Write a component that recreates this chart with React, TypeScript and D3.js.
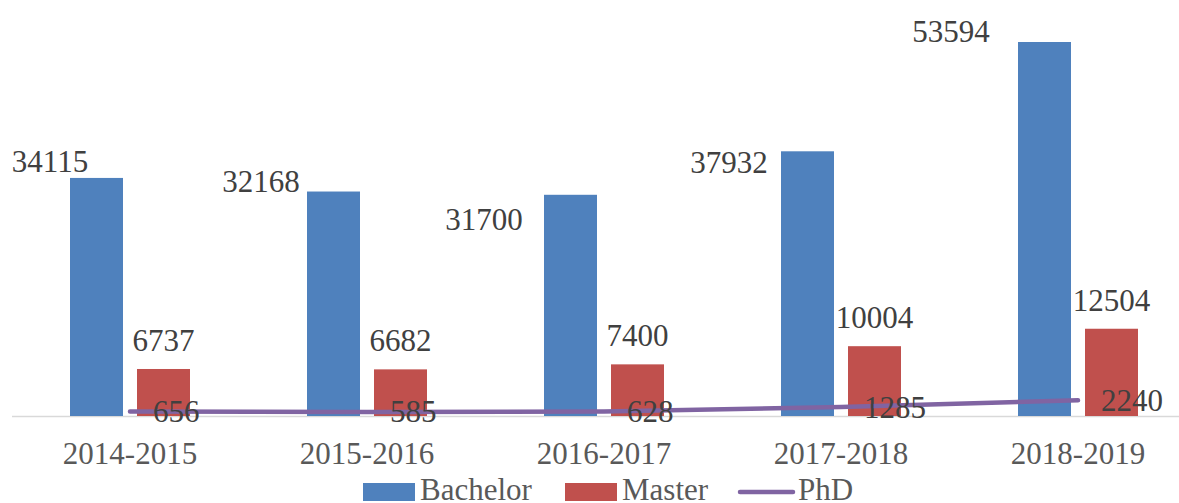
import React from "react";
import * as d3 from "d3";

const categories = ["2014-2015", "2015-2016", "2016-2017", "2017-2018", "2018-2019"];
const bachelor = [34115, 32168, 31700, 37932, 53594];
const master = [6737, 6682, 7400, 10004, 12504];
const phd = [656, 585, 628, 1285, 2240];
const seriesNames = ["Bachelor", "Master", "PhD"];

// manual label offsets for the Bachelor labels (layout, relative to bar centre / bar top)
const bachelorLabelDx = [-46.5, -72.5, -86.5, -78.5, -93.5];
const bachelorLabelDy = [-6, 0.5, 35, 22, -0.5];

const W = 1179;
const H = 503;
const COLORS = { Bachelor: "#4F81BD", Master: "#C0504D", PhD: "#8064A2" };
const FONT = "'Liberation Serif', 'Times New Roman', serif";

export default function App() {
  const x = d3.scaleBand<string>().domain(categories).range([11.5, 1196.5]).padding(0);
  const xs = d3
    .scaleBand<string>()
    .domain(["Bachelor", "Master"])
    .range([58.5, 178.5])
    .paddingInner(14 / 67)
    .paddingOuter(0);
  const y = d3.scaleLinear().domain([0, 60000]).range([416, -2.7]);

  const center = (c: string) => (x(c) as number) + x.bandwidth() / 2;
  const line = d3
    .line<number>()
    .x((_, i) => center(categories[i]))
    .y((d) => y(d));

  const bw = xs.bandwidth();

  return (
    <svg
      width={W}
      height={H}
      style={{ position: "absolute", left: 0, top: 0, background: "#fff" }}
      fontFamily={FONT}
    >
      <rect x={0} y={0} width={W} height={H} fill="#fff" />
      {/* baseline */}
      <line x1={12} x2={W} y1={416.5} y2={416.5} stroke="#d9d9d9" strokeWidth={1.5} />

      {/* Bachelor bars */}
      {categories.map((c, i) => (
        <rect
          key={"b" + c}
          x={(x(c) as number) + (xs("Bachelor") as number)}
          y={y(bachelor[i])}
          width={bw}
          height={y(0) - y(bachelor[i])}
          fill={COLORS.Bachelor}
        />
      ))}
      {/* Master bars */}
      {categories.map((c, i) => (
        <rect
          key={"m" + c}
          x={(x(c) as number) + (xs("Master") as number)}
          y={y(master[i])}
          width={bw}
          height={y(0) - y(master[i])}
          fill={COLORS.Master}
        />
      ))}

      {/* PhD line */}
      <path
        d={line(phd) || ""}
        fill="none"
        stroke={COLORS.PhD}
        strokeWidth={4.5}
        strokeLinecap="round"
        strokeLinejoin="round"
      />

      {/* Bachelor labels */}
      {categories.map((c, i) => (
        <text
          key={"bl" + c}
          x={(x(c) as number) + (xs("Bachelor") as number) + bw / 2 + bachelorLabelDx[i]}
          y={y(bachelor[i]) + bachelorLabelDy[i]}
          textAnchor="middle"
          fontSize={31}
          fill="#404040"
        >
          {bachelor[i]}
        </text>
      ))}
      {/* Master labels */}
      {categories.map((c, i) => (
        <text
          key={"ml" + c}
          x={(x(c) as number) + (xs("Master") as number) + bw / 2}
          y={y(master[i]) - 18}
          textAnchor="middle"
          fontSize={31}
          fill="#404040"
        >
          {master[i]}
        </text>
      ))}
      {/* PhD labels */}
      {categories.map((c, i) => (
        <text
          key={"pl" + c}
          x={center(c) + 23}
          y={y(phd[i]) + 10.5}
          textAnchor="start"
          fontSize={31}
          fill="#404040"
        >
          {phd[i]}
        </text>
      ))}

      {/* category axis labels */}
      {categories.map((c) => (
        <text key={"cl" + c} x={center(c)} y={464} textAnchor="middle" fontSize={31} fill="#595959">
          {c}
        </text>
      ))}

      {/* legend */}
      <g>
        <rect x={363} y={483} width={52} height={18} fill={COLORS.Bachelor} />
        <text x={420} y={500} fontSize={31} fill="#595959">
          {seriesNames[0]}
        </text>
        <rect x={565} y={483} width={52} height={18} fill={COLORS.Master} />
        <text x={622} y={500} fontSize={31} fill="#595959">
          {seriesNames[1]}
        </text>
        <line x1={740} x2={793} y1={492} y2={492} stroke={COLORS.PhD} strokeWidth={4.5} strokeLinecap="round" />
        <text x={798} y={500} fontSize={31} fill="#595959">
          {seriesNames[2]}
        </text>
      </g>
    </svg>
  );
}
